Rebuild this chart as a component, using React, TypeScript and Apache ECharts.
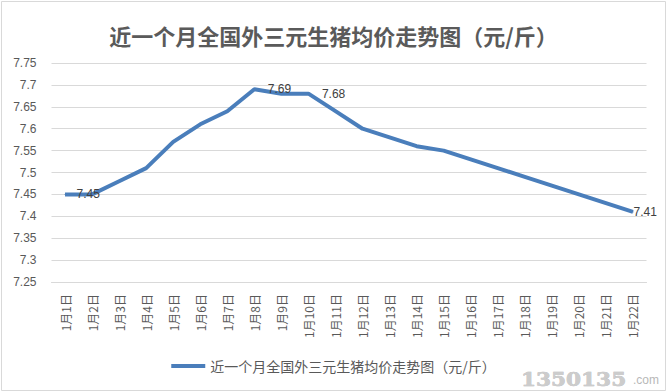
import React, { useEffect, useRef } from "react";
import * as echarts from "echarts";

const categories = [
  "1月1日", "1月2日", "1月3日", "1月4日", "1月5日", "1月6日", "1月7日", "1月8日",
  "1月9日", "1月10日", "1月11日", "1月12日", "1月13日", "1月14日", "1月15日", "1月16日",
  "1月17日", "1月18日", "1月19日", "1月20日", "1月21日", "1月22日",
];
const prices = [
  7.45, 7.45, 7.48, 7.51, 7.57, 7.61, 7.64, 7.69, 7.68, 7.68, 7.64,
  7.6, 7.58, 7.56, 7.55, 7.53, 7.51, 7.49, 7.47, 7.45, 7.43, 7.41,
];
const labeledIndexes = [0, 7, 9, 21];
const seriesName = "近一个月全国外三元生猪均价走势图（元/斤）";
const titleText = "近一个月全国外三元生猪均价走势图（元/斤）";
const watermarkMain = "1350135";
const watermarkSuffix = ".com";

export default function App() {
  const ref = useRef<HTMLDivElement>(null);
  useEffect(() => {
    if (!ref.current) return;
    const chart = echarts.init(ref.current, undefined, { renderer: "svg" });
    const labelDist: Record<number, number> = { 0: 11, 7: 13, 9: 13, 21: 0 };
    const data = prices.map((v, i) =>
      labeledIndexes.includes(i)
        ? {
            value: v,
            symbol: "circle",
            symbolSize: 1,
            label: {
              show: true,
              position: "right",
              distance: labelDist[i],
              color: "#404040",
              fontSize: 12,
              fontFamily: "Liberation Sans, Arial, sans-serif",
            },
          }
        : { value: v, symbol: "none" }
    );
    chart.setOption({
      animation: false,
      backgroundColor: "#ffffff",
      title: {
        text: titleText,
        left: "center",
        top: 19,
        textStyle: {
          fontSize: 22,
          fontWeight: "bold",
          color: "#5a5a5a",
          fontFamily: "Noto Sans CJK SC, sans-serif",
        },
      },
      legend: {
        bottom: 14,
        left: "center",
        itemWidth: 34,
        itemHeight: 4,
        itemGap: 2,
        icon: "rect",
        textStyle: {
          fontSize: 14,
          color: "#595959",
          fontFamily: "Noto Sans CJK SC, sans-serif",
        },
        data: [seriesName],
      },
      grid: { left: 51.5, right: 20.5, top: 63, bottom: 110 },
      xAxis: {
        type: "category",
        data: categories,
        boundaryGap: true,
        axisLine: { show: true, lineStyle: { color: "#d9d9d9", width: 1 } },
        axisTick: { show: false },
        axisLabel: {
          rotate: 90,
          interval: 0,
          margin: 12,
          fontSize: 12,
          color: "#595959",
          fontFamily: "Noto Sans CJK SC, sans-serif",
        },
      },
      yAxis: {
        type: "value",
        min: 7.25,
        max: 7.75,
        interval: 0.05,
        axisLine: { show: false },
        axisTick: { show: false },
        splitLine: { lineStyle: { color: "#d9d9d9", width: 1 } },
        axisLabel: {
          margin: 15,
          fontSize: 12,
          color: "#595959",
          fontFamily: "Liberation Sans, Arial, sans-serif",
        },
      },
      series: [
        {
          name: seriesName,
          type: "line",
          data,
          showSymbol: true,
          lineStyle: { color: "#4a7ebb", width: 4 },
          itemStyle: { color: "#4a7ebb" },
        },
      ],
      graphic: [
        {
          type: "rect",
          shape: { x: 1.5, y: 1.5, width: 664, height: 389 },
          style: { fill: "none", stroke: "#d9d9d9", lineWidth: 1 },
          silent: true,
        },
        {
          type: "text",
          x: 521,
          y: 380,
          scaleX: 1.2,
          style: {
            text: watermarkMain,
            fontSize: 18,
            fontWeight: "bold",
            fill: "#cccccc",
            stroke: "#b0b0b0",
            lineWidth: 0.5,
            verticalAlign: "middle",
            fontFamily: "DejaVu Serif, serif",
          },
          silent: true,
        },
        {
          type: "text",
          x: 633,
          y: 380,
          style: {
            text: watermarkSuffix,
            fontSize: 12,
            fill: "#b8b8b8",
            verticalAlign: "middle",
            fontFamily: "Liberation Sans, sans-serif",
          },
          silent: true,
        },
      ],
    });
    return () => chart.dispose();
  }, []);
  return (
    <div
      ref={ref}
      style={{ position: "fixed", left: 0, top: 0, width: 667, height: 392 }}
    />
  );
}
